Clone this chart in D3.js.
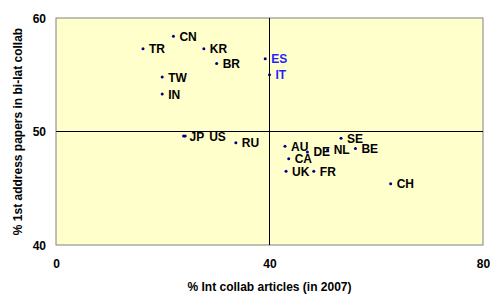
<!DOCTYPE html>
<html lang="en">
<head>
<meta charset="utf-8">
<title>Int collab scatter</title>
<script src="https://cdn.jsdelivr.net/npm/d3@7"></script>
<style>
  body { margin: 0; background: #fff; }
  text { font-family: "Liberation Sans", Arial, sans-serif; }
</style>
</head>
<body>
<script>
// -- Data -- //
const countries = ["CN", "TR", "KR", "BR", "TW", "IN", "ES", "IT", "JP", "US", "RU",
                   "SE", "AU", "DE", "NL", "BE", "CA", "UK", "FR", "CH"];
const intCollab = [22.0, 16.3, 27.7, 30.1, 19.9, 19.9, 39.2, 40.0, 23.9, 24.2, 33.7,
                   53.4, 42.9, 47.1, 50.9, 56.1, 43.6, 43.1, 48.3, 62.7];
const firstAddr = [58.4, 57.3, 57.3, 56.0, 54.8, 53.3, 56.4, 55.0, 49.6, 49.6, 49.0,
                   49.4, 48.7, 48.2, 48.4, 48.5, 47.6, 46.5, 46.5, 45.4];
const highlighted = ["ES", "IT"];
const xTicks = [0, 40, 80];
const yTicks = [40, 50, 60];

// -- Setting -- //
const width = 500, height = 307;
const plot = { left: 56, top: 18, right: 483, bottom: 245 };

const svg = d3.select("body").append("svg")
    .attr("width", width)
    .attr("height", height);

const x = d3.scaleLinear().domain([0, 80]).range([plot.left, plot.right]);
const y = d3.scaleLinear().domain([40, 60]).range([plot.bottom, plot.top]);

// background panel
svg.append("rect")
    .attr("x", plot.left).attr("y", plot.top)
    .attr("width", plot.right - plot.left)
    .attr("height", plot.bottom - plot.top)
    .attr("fill", "#ffffcc")
    .attr("stroke", "#808080")
    .attr("stroke-width", 1);

// crosshair at 40 / 50
svg.append("line")
    .attr("x1", x(40)).attr("x2", x(40))
    .attr("y1", plot.top).attr("y2", plot.bottom)
    .attr("stroke", "#000").attr("stroke-width", 1);
svg.append("line")
    .attr("x1", plot.left).attr("x2", plot.right)
    .attr("y1", y(50)).attr("y2", y(50))
    .attr("stroke", "#000").attr("stroke-width", 1);

// axes (labels only)
const xAxis = svg.append("g")
    .attr("transform", `translate(0,${plot.bottom + 14})`)
    .call(d3.axisBottom(x).tickValues(xTicks).tickSize(0).tickPadding(0));
const yAxis = svg.append("g")
    .attr("transform", `translate(${plot.left - 10},0)`)
    .call(d3.axisLeft(y).tickValues(yTicks).tickSize(0).tickPadding(0));
[xAxis, yAxis].forEach(function(a) {
    a.select(".domain").remove();
    a.selectAll("text")
        .attr("font-family", "Liberation Sans, Arial, sans-serif")
        .attr("font-size", 12)
        .attr("font-weight", "bold")
        .attr("fill", "#000");
});
yAxis.selectAll("text").attr("dy", "0.35em");

// axis titles
svg.append("text")
    .attr("x", (plot.left + plot.right) / 2)
    .attr("y", 291)
    .attr("text-anchor", "middle")
    .attr("font-size", 12)
    .attr("font-weight", "bold")
    .text("% Int collab articles (in 2007)");
svg.append("text")
    .attr("transform", `translate(22,${(plot.top + plot.bottom) / 2}) rotate(-90)`)
    .attr("text-anchor", "middle")
    .attr("font-size", 12)
    .attr("font-weight", "bold")
    .text("% 1st address papers in bi-lat collab");

// -- Points -- //
const points = countries.map(function(c, i) {
    return { name: c, x: intCollab[i], y: firstAddr[i] };
});

// label nudges (px) where labels sit side by side
const nudge = { US: 18 };

svg.append("g").selectAll("circle")
    .data(points)
    .join("circle")
        .attr("cx", d => x(d.x))
        .attr("cy", d => y(d.y))
        .attr("r", 1.5)
        .attr("fill", "#000080");

svg.append("g").selectAll("text")
    .data(points)
    .join("text")
        .attr("x", d => x(d.x) + 6 + (nudge[d.name] || 0))
        .attr("y", d => y(d.y))
        .attr("dy", "0.38em")
        .attr("font-size", 12)
        .attr("font-weight", "bold")
        .attr("fill", d => highlighted.includes(d.name) ? "#1f1fff" : "#000")
        .text(d => d.name);
</script>
</body>
</html>
